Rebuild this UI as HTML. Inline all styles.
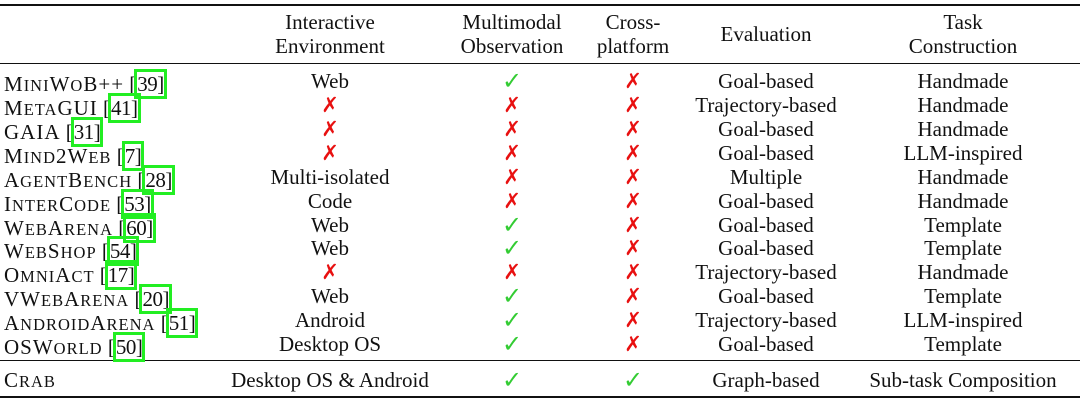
<!DOCTYPE html>
<html><head><meta charset="utf-8"><style>
body{margin:0;width:1080px;height:404px;background:#fff;position:relative;overflow:hidden;font-family:"Liberation Serif",serif;font-size:21px;color:#111}
.r{position:absolute;left:0;width:1080px;background:#111}
.c{position:absolute;width:300px;text-align:center;line-height:24px;white-space:nowrap}
.n{position:absolute;left:4px;line-height:24px;white-space:nowrap}
.nm{letter-spacing:1px}
.s{font-size:16.5px}
.b{display:inline-block;border:3px solid #22ee22;line-height:24px;padding:0;margin-left:-2px;letter-spacing:-0.5px}
.y{color:#33cc33;font-family:"DejaVu Sans",sans-serif;font-size:24px;font-weight:bold}
.x{color:#e81010;font-family:"DejaVu Sans",sans-serif;font-size:21px;font-weight:bold}
</style></head><body>
<div class="r" style="top:4px;height:2px"></div>
<div class="r" style="top:63px;height:1px"></div>
<div class="r" style="top:360px;height:1px"></div>
<div class="r" style="top:396px;height:2px"></div>

<div class="c" style="left:180px;top:10px">Interactive<br>Environment</div>
<div class="c" style="left:362px;top:10px">Multimodal<br>Observation</div>
<div class="c" style="left:483px;top:10px">Cross-<br>platform</div>
<div class="c" style="left:616px;top:22px">Evaluation</div>
<div class="c" style="left:813px;top:10px">Task<br>Construction</div>

<div id="rows"></div>
<script>
const sc=s=>s.replace(/[a-z]+/g,m=>`<span class="s">${m.toUpperCase()}</span>`);
const rows=[
["MiniWoB++","39","Web",1,0,"Goal-based","Handmade"],
["MetaGUI","41",null,0,0,"Trajectory-based","Handmade"],
["GAIA","31",null,0,0,"Goal-based","Handmade"],
["Mind2Web","7",null,0,0,"Goal-based","LLM-inspired"],
["AgentBench","28","Multi-isolated",0,0,"Multiple","Handmade"],
["InterCode","53","Code",0,0,"Goal-based","Handmade"],
["WebArena","60","Web",1,0,"Goal-based","Template"],
["WebShop","54","Web",1,0,"Goal-based","Template"],
["OmniAct","17",null,0,0,"Trajectory-based","Handmade"],
["VWebArena","20","Web",1,0,"Goal-based","Template"],
["AndroidArena","51","Android",1,0,"Trajectory-based","LLM-inspired"],
["OSWorld","50","Desktop OS",1,0,"Goal-based","Template"],
["Crab",null,"Desktop OS &amp; Android",1,1,"Graph-based","Sub-task Composition"]];
const ys=[81,105,129,153,177,201,225,248,272,296,320,344,380];
let h="";
const mk=v=>v?'<span class="y">✓</span>':'<span class="x">✗</span>';
rows.forEach((r,i)=>{const t=ys[i]-12;
h+=`<div class="n" style="top:${t}px"><span class="nm">${sc(r[0])}</span>${r[1]?` [<span class="b">${r[1]}]</span>`:""}</div>`;
h+=`<div class="c" style="left:180px;top:${t}px">${r[2]===null?mk(0):r[2]}</div>`;
h+=`<div class="c" style="left:362px;top:${t}px">${mk(r[3])}</div>`;
h+=`<div class="c" style="left:483px;top:${t}px">${mk(r[4])}</div>`;
h+=`<div class="c" style="left:616px;top:${t}px">${r[5]}</div>`;
h+=`<div class="c" style="left:813px;top:${t}px">${r[6]}</div>`;});
document.getElementById("rows").innerHTML=h;
</script>
</body></html>
